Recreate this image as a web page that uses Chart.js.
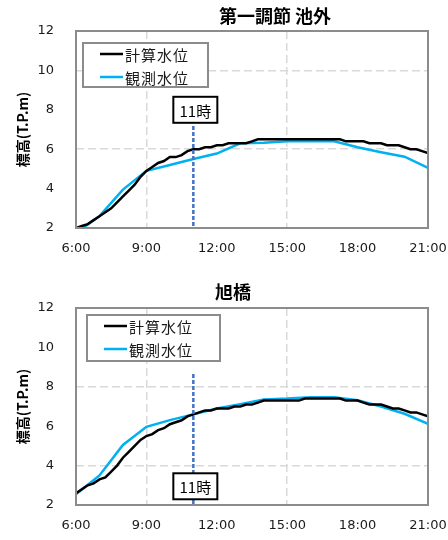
<!DOCTYPE html>
<html lang="ja">
<head>
<meta charset="utf-8">
<title>水位比較</title>
<script src="https://cdn.jsdelivr.net/npm/chart.js@4/dist/chart.umd.min.js"></script>
<style>
  html, body { margin: 0; padding: 0; background: #fff; overflow: hidden; }
  canvas { display: block; }
</style>
</head>
<body>
<canvas id="chartTop" width="448" height="270"></canvas>
<canvas id="chartBottom" width="448" height="270"></canvas>
<script>
// ============================================================
// DATA
// ============================================================
const SERIES_LABELS = ["計算水位", "観測水位"];
const Y_TICKS = [2, 4, 6, 8, 10, 12];
const X_TICK_HOURS = [6, 9, 12, 15, 18, 21];
const MARKER_HOUR = 11;
const MARKER_TEXT = "11時";

// computed level, every 15 min
const calcTimes = [
  6, 6.25, 6.5, 6.75, 7, 7.25, 7.5, 7.75, 8, 8.25, 8.5, 8.75,
  9, 9.25, 9.5, 9.75, 10, 10.25, 10.5, 10.75, 11, 11.25, 11.5, 11.75,
  12, 12.25, 12.5, 12.75, 13, 13.25, 13.5, 13.75, 14, 14.25, 14.5, 14.75,
  15, 15.25, 15.5, 15.75, 16, 16.25, 16.5, 16.75, 17, 17.25, 17.5, 17.75,
  18, 18.25, 18.5, 18.75, 19, 19.25, 19.5, 19.75, 20, 20.25, 20.5, 20.75, 21
];
const calcTop = [
  2.0, 2.1, 2.2, 2.4, 2.6, 2.8, 3.0, 3.3, 3.6, 3.9, 4.2, 4.6,
  4.9, 5.1, 5.3, 5.4, 5.6, 5.6, 5.7, 5.9, 6.0, 6.0, 6.1, 6.1,
  6.2, 6.2, 6.3, 6.3, 6.3, 6.3, 6.4, 6.5, 6.5, 6.5, 6.5, 6.5,
  6.5, 6.5, 6.5, 6.5, 6.5, 6.5, 6.5, 6.5, 6.5, 6.5, 6.4, 6.4,
  6.4, 6.4, 6.3, 6.3, 6.3, 6.2, 6.2, 6.2, 6.1, 6.0, 6.0, 5.9, 5.8
];
const calcBottom = [
  2.6, 2.8, 3.0, 3.1, 3.3, 3.4, 3.7, 4.0, 4.4, 4.7, 5.0, 5.3,
  5.5, 5.6, 5.8, 5.9, 6.1, 6.2, 6.3, 6.5, 6.6, 6.7, 6.8, 6.8,
  6.9, 6.9, 6.9, 7.0, 7.0, 7.1, 7.1, 7.2, 7.3, 7.3, 7.3, 7.3,
  7.3, 7.3, 7.3, 7.4, 7.4, 7.4, 7.4, 7.4, 7.4, 7.4, 7.3, 7.3,
  7.3, 7.2, 7.1, 7.1, 7.1, 7.0, 6.9, 6.9, 6.8, 6.7, 6.7, 6.6, 6.5
];

// observed level, hourly
const obsTimes = [6, 7, 8, 9, 10, 11, 12, 13, 14, 15, 16, 17, 18, 19, 20, 21];
const obsTop = [1.75, 2.6, 3.95, 4.9, 5.2, 5.5, 5.78, 6.3, 6.33, 6.4, 6.4, 6.4, 6.1, 5.85, 5.62, 5.05];
const obsBottom = [2.55, 3.5, 5.05, 5.97, 6.31, 6.6, 6.9, 7.12, 7.36, 7.4, 7.47, 7.47, 7.32, 7.0, 6.63, 6.12];

// ============================================================
// STYLE
// ============================================================
const COLORS = {
    calc: "#000000",
    obs: "#00B0F0",
    grid: "#d9d9d9",
    frame: "#8c8c8c",
    marker: "#4472C4",
    text: "#1a1a1a"
};
const CJK = "'Noto Sans CJK JP', 'Noto Sans', sans-serif";
const NUM = "'DejaVu Sans', sans-serif";

// Frame, 11時 marker, legend box and title, drawn over the plot
const overlayPlugin = {
    id: "overlay",
    afterDatasetsDraw(chart, args, o) {
        const { ctx, chartArea: a } = chart;
        const xs = chart.scales.x, ys = chart.scales.y;
        ctx.save();

        // plot frame
        ctx.strokeStyle = COLORS.frame;
        ctx.lineWidth = 2;
        ctx.strokeRect(a.left, a.top, a.right - a.left, a.bottom - a.top);

        // dashed marker line
        const mx = xs.getPixelForValue(MARKER_HOUR);
        ctx.strokeStyle = COLORS.marker;
        ctx.lineWidth = 2.5;
        ctx.setLineDash([4, 2]);
        ctx.beginPath();
        ctx.moveTo(mx, ys.getPixelForValue(o.markerFrom));
        ctx.lineTo(mx, ys.getPixelForValue(o.markerTo));
        ctx.stroke();
        ctx.setLineDash([]);

        // marker label box
        const bx = mx + 2, by = ys.getPixelForValue(o.labelAt);
        ctx.fillStyle = "#fff";
        ctx.fillRect(bx - 22, by - 13, 44, 26);
        ctx.strokeStyle = "#000";
        ctx.lineWidth = 2;
        ctx.strokeRect(bx - 22, by - 13, 44, 26);
        ctx.fillStyle = "#000";
        ctx.font = "15px " + CJK;
        ctx.textAlign = "center";
        ctx.textBaseline = "middle";
        ctx.fillText(MARKER_TEXT, bx, by + 1);

        // legend box
        const L = o.legend;
        ctx.fillStyle = "#fff";
        ctx.fillRect(L.x, L.y, L.w, L.h);
        ctx.strokeStyle = COLORS.frame;
        ctx.strokeRect(L.x, L.y, L.w, L.h);
        ctx.font = "15px " + CJK;
        ctx.textAlign = "left";
        ctx.letterSpacing = "1px";
        chart.data.datasets.forEach((ds, i) => {
            const ry = L.y + 11 + i * 23;
            ctx.strokeStyle = ds.borderColor;
            ctx.lineWidth = 2.5;
            ctx.beginPath();
            ctx.moveTo(L.x + 17, ry);
            ctx.lineTo(L.x + 40, ry);
            ctx.stroke();
            ctx.fillStyle = COLORS.text;
            ctx.fillText(ds.label, L.x + 42, ry + 1);
        });
        ctx.letterSpacing = "0px";

        // chart title
        ctx.fillStyle = "#000";
        ctx.font = "bold 18px " + CJK;
        ctx.textAlign = "center";
        ctx.fillText(o.title, o.titleX, o.titleY);

        ctx.restore();
    }
};

function toPoints(xsArr, ysArr) {
    return xsArr.map((t, i) => ({ x: t, y: ysArr[i] }));
}

function makeChart(id, calcVals, obsVals, gridY, layout) {
    const canvas = document.getElementById(id);
    return new Chart(canvas.getContext("2d"), {
        type: "line",
        data: {
            datasets: [
                {
                    label: SERIES_LABELS[0],
                    data: toPoints(calcTimes, calcVals),
                    borderColor: COLORS.calc,
                    borderWidth: 2.5,
                    pointRadius: 0,
                    tension: 0,
                    clip: 0
                },
                {
                    label: SERIES_LABELS[1],
                    data: toPoints(obsTimes, obsVals),
                    borderColor: COLORS.obs,
                    borderWidth: 2.5,
                    pointRadius: 0,
                    tension: 0,
                    clip: 0
                }
            ]
        },
        options: {
            responsive: false,
            animation: false,
            events: [],
            layout: {
                autoPadding: false,
                padding: { left: 0, right: 20, top: layout.top, bottom: 0 }
            },
            plugins: {
                legend: { display: false },
                tooltip: { enabled: false },
                overlay: layout.overlay
            },
            scales: {
                x: {
                    type: "linear",
                    min: 6,
                    max: 21,
                    afterBuildTicks: s => { s.ticks = X_TICK_HOURS.map(v => ({ value: v })); },
                    afterFit: s => {
                        s.height = layout.xAxisH;
                        s.paddingLeft = 0;
                        s.paddingRight = 0;
                    },
                    ticks: {
                        padding: 13,
                        color: COLORS.text,
                        font: { family: NUM, size: 13 },
                        maxRotation: 0,
                        callback: v => v + ":00"
                    },
                    grid: {
                        drawTicks: false,
                        lineWidth: 1.5,
                        color: c => [9, 15].includes(c.tick && c.tick.value) ? COLORS.grid : "rgba(0,0,0,0)"
                    },
                    border: { display: false, dash: [8, 4] }
                },
                y: {
                    min: 2,
                    max: 12,
                    afterBuildTicks: s => { s.ticks = Y_TICKS.map(v => ({ value: v })); },
                    afterFit: s => {
                        s.width = 76;
                        s.paddingTop = 0;
                        s.paddingBottom = 0;
                    },
                    ticks: {
                        padding: 22,
                        color: COLORS.text,
                        font: { family: NUM, size: 13 }
                    },
                    grid: {
                        drawTicks: false,
                        lineWidth: 1.5,
                        color: c => gridY.includes(c.tick && c.tick.value) ? COLORS.grid : "rgba(0,0,0,0)"
                    },
                    border: { display: false, dash: [8, 4] },
                    title: {
                        display: true,
                        text: "標高(T.P.m)",
                        color: "#000",
                        font: { family: CJK, size: 14, weight: "bold" },
                        padding: { top: 14, bottom: 0 }
                    }
                }
            }
        },
        plugins: [overlayPlugin]
    });
}

// ============================================================
// CHARTS
// ============================================================
makeChart("chartTop", calcTop, obsTop, [6, 10], {
    top: 31,
    xAxisH: 42,
    overlay: {
        title: "第一調節 池外", titleX: 275, titleY: 16,
        markerFrom: 7.18, markerTo: 2, labelAt: 8.0,
        legend: { x: 83, y: 43, w: 125, h: 44 }
    }
});

makeChart("chartBottom", calcBottom, obsBottom, [4, 8], {
    top: 38,
    xAxisH: 35,
    overlay: {
        title: "旭橋", titleX: 233, titleY: 22,
        markerFrom: 8.65, markerTo: 2, labelAt: 2.95,
        legend: { x: 87, y: 45, w: 133, h: 46 }
    }
});
</script>
</body>
</html>
